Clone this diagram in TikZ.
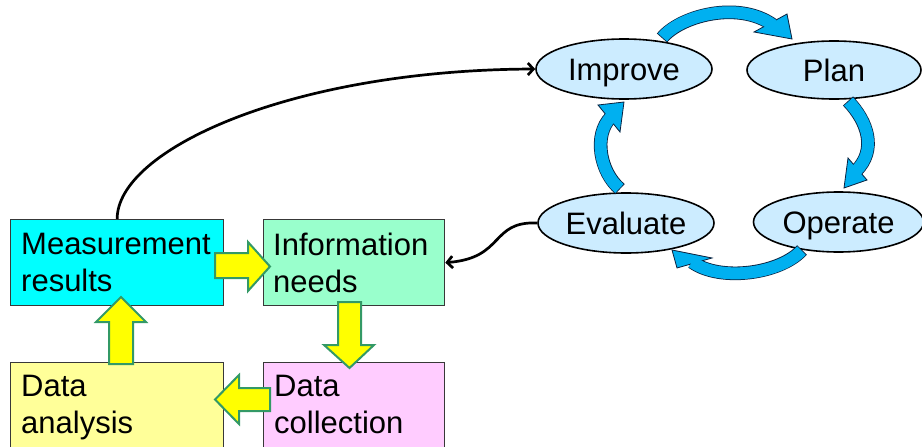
\documentclass[tikz,border=0pt]{standalone}
\usepackage{fontspec}
\setmainfont{Liberation Sans}
\usetikzlibrary{shapes.geometric,arrows.meta,calc}
\definecolor{mrcyan}{HTML}{00FFFF}
\definecolor{inmint}{HTML}{99FFCC}
\definecolor{dayel}{HTML}{FFFF99}
\definecolor{dcpink}{HTML}{FFCCFF}
\definecolor{boxline}{HTML}{383838}
\definecolor{ayel}{HTML}{FFFF00}
\definecolor{agreen}{HTML}{339966}
\definecolor{ellfill}{HTML}{CCECFF}
\definecolor{cycfill}{HTML}{00B0F0}
\definecolor{cycline}{HTML}{0A2240}
\begin{document}
\begin{tikzpicture}[x=1pt,y=-1pt,
  box/.style={draw=boxline, line width=1.3pt, rectangle, inner sep=0pt, anchor=north west},
  boxtext/.style={anchor=north west, inner sep=0pt, align=left, font=\fontsize{31}{37}\selectfont},
  phase/.style={ellipse, draw=black, line width=1.6pt, fill=ellfill, inner sep=0pt, text height=22.2pt, text depth=0pt, font=\fontsize{31}{37}\selectfont},
  blk/.style={fill=ayel, draw=agreen, line width=2pt, line join=miter},
  conn/.style={draw=black, line width=2.7pt, -{Straight Barb[length=5.5pt,width=12pt]}},
  cycout/.style={draw=cycline, line width=13.6pt},
  cycin/.style={draw=cycfill, line width=12pt, shorten <=0.8pt},
  cychead/.style={fill=cycfill, draw=cycline, line width=0.8pt, line join=miter}
]
\useasboundingbox (0,0) rectangle (922,447);
\clip (0,0) rectangle (922,447);

% boxes
\node[box, fill=mrcyan, minimum width=213pt, minimum height=86pt] (mr) at (10,219) {};
\node[box, fill=inmint, minimum width=181pt, minimum height=86pt] (in) at (263,219) {};
\node[box, fill=dayel, minimum width=213pt, minimum height=100pt] (da) at (10,362) {};
\node[box, fill=dcpink, minimum width=181pt, minimum height=100pt] (dc) at (263,362) {};

\node[boxtext] (mrt) at (21,233) {Measurement\\results};
\node[boxtext] (int) at (273,233) {Information\\needs};
\node[boxtext] (dat) at (21,375) {Data\\analysis};
\node[boxtext] (dct) at (274,375) {Data\\collection};

% yellow block arrows
\draw[blk] (215,253) -- (248,253) -- (248,242) -- (270,266.5) -- (248,291) -- (248,278) -- (215,278) -- cycle;
\draw[blk] (338,302) -- (361,302) -- (361,345) -- (374,345) -- (349.5,368) -- (324,345) -- (338,345) -- cycle;
\draw[blk] (270,388) -- (239,388) -- (239,375) -- (215,399.5) -- (239,424) -- (239,411) -- (270,411) -- cycle;
\draw[blk] (109,364) -- (109,322) -- (96,322) -- (121,297) -- (146,322) -- (133,322) -- (133,364) -- cycle;

% ellipses
\node[phase, minimum width=176pt, minimum height=60pt] (imp) at (624,69) {Improve};
\node[phase, minimum width=174pt, minimum height=58pt] (pln) at (834,70) {Plan};
\node[phase, minimum width=176pt, minimum height=60pt] (evl) at (626,223) {Evaluate};
\node[phase, minimum width=170pt, minimum height=60pt] (opr) at (838.5,222) {Operate};

% connectors
\draw[conn] (mr.north) .. controls (117,150) and (290,70) .. (imp.west);
\draw[conn] (evl.west) .. controls (490,221) and (505,258) .. (in.east);

% blue cycle arrows
\draw[cycout] (662,38) .. controls (680,16) and (738,0) .. (773,25);
\filldraw[cychead] (787,14) -- (792,39) -- (754,32) -- cycle;
\draw[cycin] (662,38) .. controls (680,16) and (738,0) .. (773,25);

\draw[cycout] (848,101) .. controls (868,122) and (877,150) .. (856,171);
\filldraw[cychead] (848,158) -- (844,188) -- (867,180) -- cycle;
\draw[cycin] (848,101) .. controls (868,122) and (877,150) .. (856,171);

\draw[cycout] (802,250) .. controls (780,274) and (720,282) .. (692,262);
\filldraw[cychead] (712,258) -- (672,250) -- (677,268) -- cycle;
\draw[cycin] (802,250) .. controls (780,274) and (720,282) .. (692,262);

\draw[cycout] (620,189) .. controls (600,172) and (593,135) .. (611,117);
\filldraw[cychead] (598,105) -- (624,102) -- (620,132) -- cycle;
\draw[cycin] (620,189) .. controls (600,172) and (593,135) .. (611,117);
\end{tikzpicture}
\end{document}
